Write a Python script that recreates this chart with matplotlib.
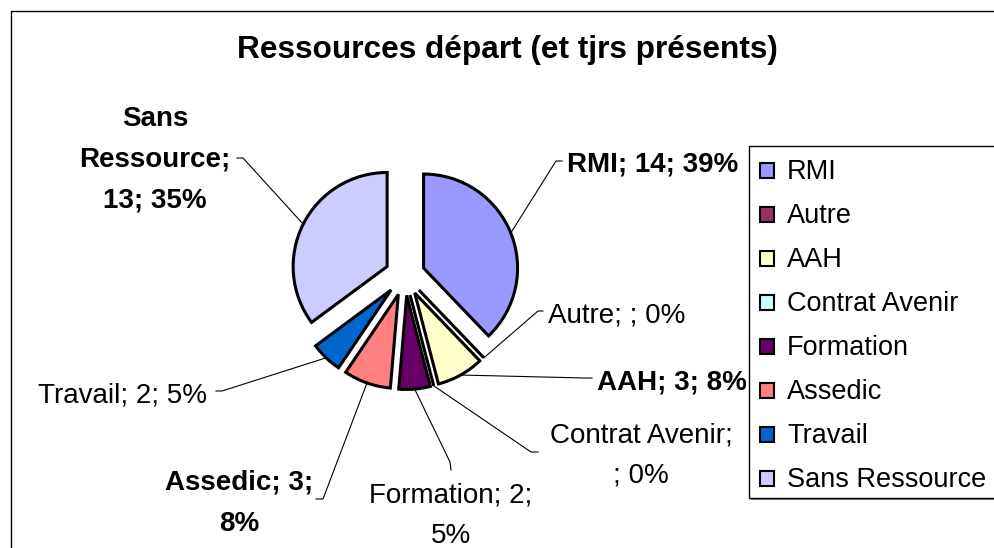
import math
import matplotlib
matplotlib.use("Agg")
import matplotlib.pyplot as plt
from matplotlib.patches import Rectangle

# ---- data ----
categories = ["RMI", "Autre", "AAH", "Contrat Avenir", "Formation",
              "Assedic", "Travail", "Sans Ressource"]
values = [14, 0, 3, 0, 2, 3, 2, 13]
percent_labels = [39, 0, 8, 0, 5, 8, 5, 35]
colors = ["#9999FF", "#993366", "#FFFFCC", "#CCFFFF", "#660066",
          "#FF8080", "#0066CC", "#CCCCFF"]
title = "Ressources départ (et tjrs présents)"

# ---- layout (image pixel coords, y from top) ----
W, H = 994, 548
def Y(y):
    return H - y

FONT = "Liberation Sans"
bold_labels = {"RMI", "AAH", "Assedic", "Sans Ressource"}
# line-break pattern of each data label
label_lines = {
    "RMI": ["{n}; {v}; {p}%"],
    "Autre": ["{n}; {v}; {p}%"],
    "AAH": ["{n}; {v}; {p}%"],
    "Contrat Avenir": ["{n};", "{v}; {p}%"],
    "Formation": ["{n}; {v};", "{p}%"],
    "Assedic": ["{n}; {v};", "{p}%"],
    "Travail": ["{n}; {v}; {p}%"],
    "Sans Ressource": ["Sans", "Ressource;", "{v}; {p}%"],
}
# x, first baseline, alignment, line step
label_pos = {
    "RMI": (567, 172, "left", 41),
    "Autre": (548, 322, "left", 41),
    "AAH": (597, 389, "left", 41),
    "Contrat Avenir": (641, 443, "center", 40),
    "Formation": (451, 503, "center", 40),
    "Assedic": (239, 490, "center", 41),
    "Travail": (38, 402, "left", 41),
    "Sans Ressource": (155, 126, "center", 40.5),
}
# leader line elbow and end
leader = {
    "RMI": ((556, 161), (562, 161)),
    "Autre": ((538, 311), (543, 311)),
    "AAH": ((585, 378), (592, 378)),
    "Contrat Avenir": ((531, 452), (538, 452)),
    "Formation": ((450, 462), (451, 470)),
    "Assedic": ((323, 499), (316, 499)),
    "Travail": ((222, 391), (216, 391)),
    "Sans Ressource": ((243, 158), (237, 158)),
}

fig = plt.figure(figsize=(W / 100, H / 100), dpi=100)
ax = fig.add_axes([0, 0, 1, 1])

wedges, _ = ax.pie(values, colors=colors, startangle=90, counterclock=False,
                   radius=94, center=(405, Y(275.5)), explode=[20] * len(values),
                   wedgeprops=dict(edgecolor="black", linewidth=2.2,
                                   joinstyle="miter"),
                   frame=True)
ax.set_xlim(0, W)
ax.set_ylim(0, H)
ax.set_aspect("auto")
ax.set_axis_off()

# outer chart frame
ax.add_patch(Rectangle((10.5, Y(H + 20)), W + 20, H + 20 - 10.5, fill=False,
                       edgecolor="black", linewidth=1.0, zorder=0))

# title
ax.text(507, Y(58), title, ha="center", va="baseline", fontsize=22.8,
        fontweight="bold", family=FONT)

# data labels and leader lines
for w, name, v, p in zip(wedges, categories, values, percent_labels):
    mid = math.radians((w.theta1 + w.theta2) / 2)
    cx, cy = w.center
    ax_x = cx + w.r * math.cos(mid)
    ax_y = cy + w.r * math.sin(mid)
    (ex, ey), (tx, ty) = leader[name]
    ax.plot([ax_x, ex, tx], [ax_y, Y(ey), Y(ty)], color="black",
            linewidth=0.8, solid_joinstyle="miter")
    x, y0, ha, step = label_pos[name]
    vs = "" if v == 0 else str(v)
    for i, tmpl in enumerate(label_lines[name]):
        ax.text(x, Y(y0 + i * step), tmpl.format(n=name, v=vs, p=p),
                ha=ha, va="baseline", fontsize=20, family=FONT,
                fontweight="bold" if name in bold_labels else "normal")

# legend
lx0, ly0, lx1, ly1 = 749, 146, 1010, 498
ax.add_patch(Rectangle((lx0 + 2, Y(ly1 + 2)), lx1 - lx0, ly1 - ly0,
                       facecolor="#808080", edgecolor="none", zorder=3))
ax.add_patch(Rectangle((lx0, Y(ly1)), lx1 - lx0, ly1 - ly0,
                       facecolor="white", edgecolor="black", linewidth=1.0,
                       zorder=4))
for i, (name, c) in enumerate(zip(categories, colors)):
    base = 179 + i * 44
    ax.add_patch(Rectangle((760, Y(base - 1)), 14, 15, facecolor=c,
                           edgecolor="black", linewidth=1.5, zorder=5))
    ax.text(787, Y(base), name, ha="left", va="baseline", fontsize=19.5,
            family=FONT, zorder=6)

fig.savefig("out.png", dpi=100)
